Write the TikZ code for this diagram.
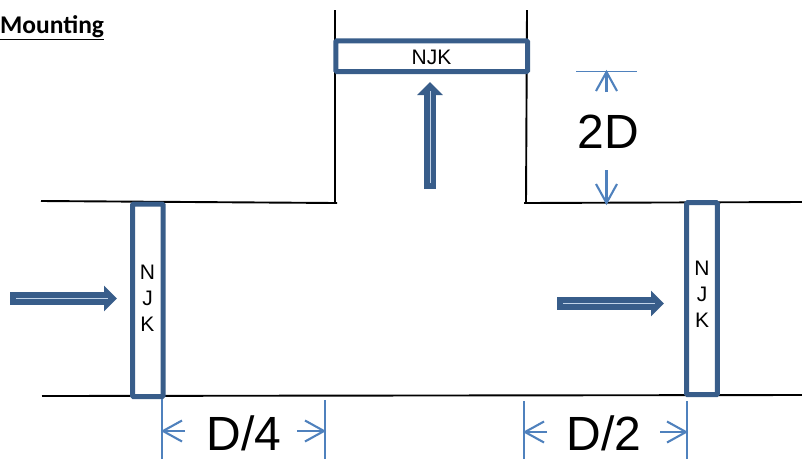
\documentclass[tikz,border=0pt]{standalone}
\usepackage{fontspec}
\setmainfont{Liberation Sans}
\newfontfamily\carl{Carlito}
\usetikzlibrary{arrows.meta,calc}
\definecolor{boxblue}{HTML}{385D8A}
\definecolor{dimblue}{HTML}{4F81BD}
\tikzset{
  x=1pt,y=-1pt,
  pipe/.style={line width=1.9pt,draw=black},
  sensor/.style={draw=boxblue,line width=5pt,rounded corners=1pt,fill=white,inner sep=0pt,align=center,anchor=center},
  sensortext/.style={font=\fontsize{21}{26}\selectfont,align=center,inner sep=0pt},
  flow/.style={draw=boxblue,line width=12.5pt,-{Triangle[length=13pt,width=25pt,color=boxblue]}},
  flowcore/.style={draw=white!65!dimblue,line width=0.6pt},
  dimline/.style={draw=dimblue,line width=1.5pt},
  dimstroke/.style={draw=dimblue,line width=2.1pt},
  dimlabel/.style={font=\fontsize{48}{48}\selectfont,text=black,inner sep=0pt},
}
\newcommand{\dimarr}[2]{%
  \draw[dimstroke] (#1) -- (#2);
  \path ($(#2)!19pt!(#1)$) coordinate (barbbase);
  \draw[dimstroke] ($(barbbase)!10.5pt!90:(#2)$) -- (#2) -- ($(barbbase)!10.5pt!-90:(#2)$);
}
\begin{document}
\begin{tikzpicture}
\useasboundingbox (0,0) rectangle (802,459);
% pipe walls
\coordinate (tl0) at (41,201);
\coordinate (tl1) at (337,203);
\coordinate (v1a) at (335,10);
\coordinate (v1b) at (335,203);
\coordinate (v2a) at (527,10);
\coordinate (v2b) at (526,203);
\coordinate (tr0) at (524,203);
\coordinate (tr1) at (802,202);
\coordinate (b0) at (42,396);
\coordinate (b1) at (802,395);
\draw[pipe] (tl0) -- (tl1);
\draw[pipe] (v1a) -- (v1b);
\draw[pipe] (v2a) -- (v2b);
\draw[pipe] (tr0) -- (tr1);
\draw[pipe] (b0) -- (b1);
% sensors
\node[sensor,minimum width=30.5pt,minimum height=192.5pt] (left) at (147.8,300.3) {};
\node[sensortext] (leftt) at (147.5,298) {N\\J\\K};
\node[sensor,minimum width=30.7pt,minimum height=192pt] (right) at (702,298.7) {};
\node[sensortext] (rightt) at (702,294) {N\\J\\K};
\node[sensor,minimum width=191.7pt,minimum height=30.7pt] (top) at (431.7,56.2) {};
\node[sensortext] (topt) at (431.5,57.5) {NJK};
% flow arrows
\coordinate (fa0) at (10,298.5);
\coordinate (fa1) at (117,298.5);
\coordinate (fa2) at (16,298.5);
\coordinate (fa3) at (108,298.5);
\draw[flow] (fa0) -- (fa1);
\draw[flowcore] (fa2) -- (fa3);
\coordinate (fb0) at (557,303.5);
\coordinate (fb1) at (664,303.5);
\coordinate (fb2) at (563,303.5);
\coordinate (fb3) at (655,303.5);
\draw[flow] (fb0) -- (fb1);
\draw[flowcore] (fb2) -- (fb3);
\coordinate (fc0) at (430,189);
\coordinate (fc1) at (430,82);
\coordinate (fc2) at (430,183);
\coordinate (fc3) at (430,91);
\draw[flow] (fc0) -- (fc1);
\draw[flowcore] (fc2) -- (fc3);
% 2D dimension
\coordinate (d0) at (576,71.5);
\coordinate (d1) at (637,71.5);
\draw[dimline] (d0) -- (d1);
\coordinate (d2) at (606.5,92);
\coordinate (d3) at (606.5,72);
\dimarr{d2}{d3}
\coordinate (d4) at (606.5,170);
\coordinate (d5) at (606.5,203);
\dimarr{d4}{d5}
\node[dimlabel] (l2d) at (608,131.5) {2D};
% D/4
\coordinate (e0) at (162,399);
\coordinate (e1) at (162,459);
\coordinate (e2) at (325,400);
\coordinate (e3) at (325,459);
\draw[dimline] (e0) -- (e1);
\draw[dimline] (e2) -- (e3);
\coordinate (e4) at (185,431);
\coordinate (e5) at (163,431);
\coordinate (e6) at (297,431);
\coordinate (e7) at (324,431);
\dimarr{e4}{e5}
\dimarr{e6}{e7}
\node[dimlabel] (ld4) at (244,433) {D/4};
% D/2
\coordinate (g0) at (524,401);
\coordinate (g1) at (524,459);
\coordinate (g2) at (687,401);
\coordinate (g3) at (687,459);
\draw[dimline] (g0) -- (g1);
\draw[dimline] (g2) -- (g3);
\coordinate (g4) at (547,432);
\coordinate (g5) at (525,432);
\coordinate (g6) at (660,432);
\coordinate (g7) at (686,432);
\dimarr{g4}{g5}
\dimarr{g6}{g7}
\node[dimlabel] (ld2) at (604,433) {D/2};
% title
\node[font=\carl\bfseries\fontsize{25.5}{26}\selectfont,anchor=base west,inner sep=0pt] (title) at (0,33) {\underline{Mounting}};
\end{tikzpicture}
\end{document}
